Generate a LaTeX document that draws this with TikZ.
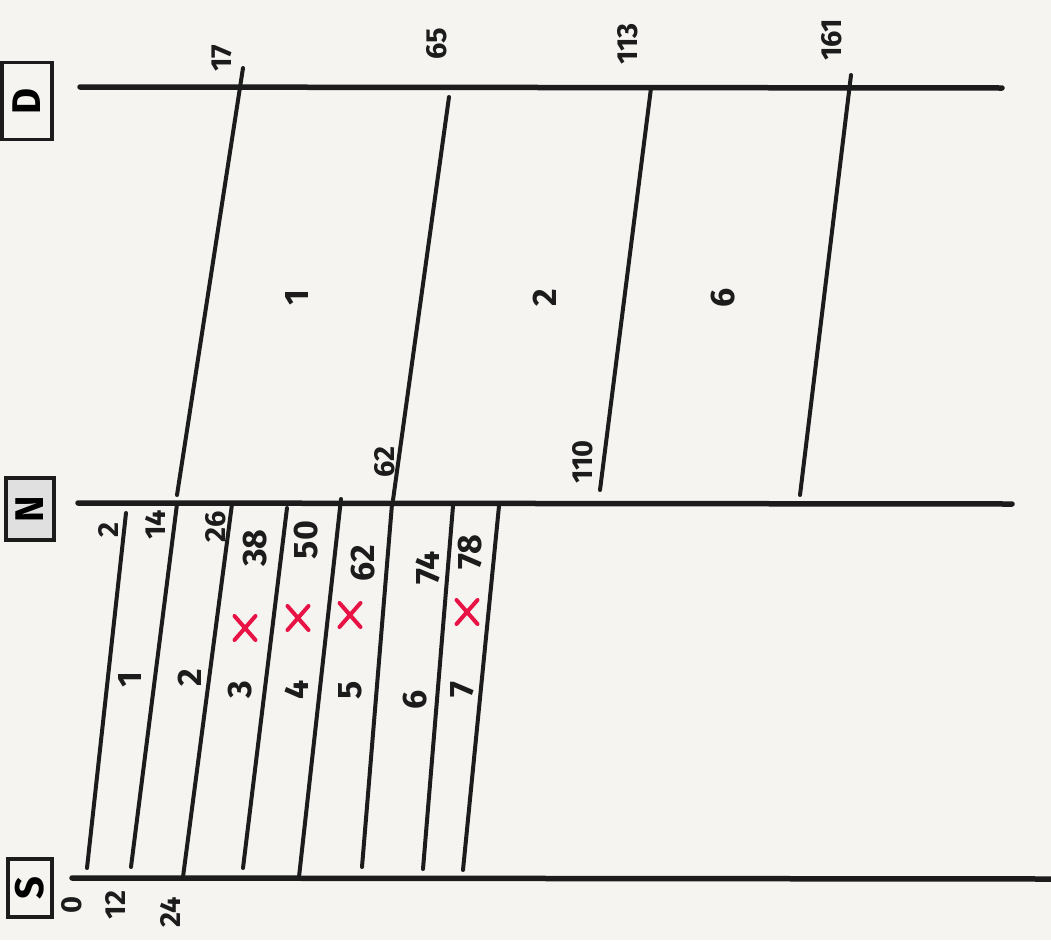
\documentclass[tikz,border=0pt]{standalone}
\usepackage{fontspec}
\setmainfont{Fira Sans}
\usetikzlibrary{positioning, shapes.misc}
\definecolor{cBg}{RGB}{245,244,240}
\definecolor{cInk}{RGB}{28,28,28}
\definecolor{cX}{RGB}{232,18,68}

\begin{document}
\begin{tikzpicture}[x=1pt, y=-1pt, line cap=round,
                    timeline/.style={draw=cInk, line width=5.5pt},
                    pkt/.style={draw=cInk, line width=4pt},
                    num/.style={rotate=90, inner sep=0pt, text=cInk, font=\fontsize{29}{32}\selectfont\bfseries},
                    bignum/.style={num, font=\fontsize{34}{38}\selectfont\bfseries},
                    hostbox/.style={draw=cInk, line width=3.5pt, rotate=90, inner sep=0pt, font=\fontsize{40}{44}\selectfont\bfseries},
                    lost/.style={cross out, draw=cX, line width=4pt, minimum width=17pt, minimum height=20pt}]

    % Paper
    \fill[cBg] (0,0) rectangle (1051,940);
    \useasboundingbox (0,0) rectangle (1051,940);

    % Hosts
    \node[hostbox, minimum width=77pt, minimum height=50pt] (hD) at (27,101) {D};
    \node[hostbox, minimum width=62pt, minimum height=48pt, fill=black!12] (hN) at (30,509) {N};
    \node[hostbox, minimum width=58pt, minimum height=44pt] (hS) at (30,888) {S};

    % Timelines
    \coordinate (D0) at (80,87);   \coordinate (D1) at (1002,88);
    \coordinate (N0) at (78,503);  \coordinate (N1) at (1012,504);
    \coordinate (S0) at (72,878);  \coordinate (S1) at (1051,879);
    \draw[timeline] (D0) -- (D1);
    \draw[timeline] (N0) -- (N1);
    \draw[timeline] (S0) -- (S1);

    % Segments S -> N
    \foreach \i/\xa/\ya/\xb/\yb in {1/87/868/126/513, 2/131/867/177/504, 3/183/877/232/504,
                                    4/243/868/287/508, 5/299/877/341/499, 6/362/867/392/504,
                                    7/423/869/453/506, 8/463/870/499/506} {
        \coordinate (s\i) at (\xa,\ya);
        \coordinate (n\i) at (\xb,\yb);
        \draw[pkt] (s\i) -- (n\i);
    }

    % Segments N -> D
    \foreach \i/\xa/\ya/\xb/\yb in {1/177/495/243/68, 2/393/500/449/97,
                                    3/600/490/651/88, 4/800/495/851/75} {
        \coordinate (r\i) at (\xa,\ya);
        \coordinate (d\i) at (\xb,\yb);
        \draw[pkt] (r\i) -- (d\i);
    }

    % Times at D
    \node[num] (t17) at (222,58) {17};
    \node[num] (t65) at (437,44) {65};
    \node[num] (t113) at (628,44) {113};
    \node[num] (t161) at (832,40) {161};

    % Times leaving N
    \node[num] (t62r) at (385,462) {62};
    \node[num] (t110) at (583,462) {110};

    % Times arriving at N
    \foreach \t/\x/\y in {2/108/530, 14/155/525, 26/216/527} {
        \node[num] (a\t) at (\x,\y) {\t};
    }
    \foreach \t/\x/\y in {38/255/548, 50/306/540, 62/363/563, 74/428/568, 78/470/552} {
        \node[bignum] (a\t) at (\x,\y) {\t};
    }

    % Times at S
    \node[num] (t0) at (72,905) {0};
    \node[num] (t12) at (115,905) {12};
    \node[num] (t24) at (170,912) {24};

    % Segment numbers
    \foreach \k/\x/\y in {1/130/680, 2/190/678, 3/240/690, 4/297/690, 5/350/690, 6/415/700, 7/462/690} {
        \node[bignum] (p\k) at (\x,\y) {\k};
    }
    \node[bignum] (q1) at (297,298) {1};
    \node[bignum] (q2) at (545,298) {2};
    \node[bignum] (q6) at (723,298) {6};

    % Lost segments
    \node[lost] (x3) at (245,628) {};
    \node[lost] (x4) at (298,618) {};
    \node[lost] (x5) at (350,615) {};
    \node[lost] (x7) at (467,612) {};

\end{tikzpicture}
\end{document}
